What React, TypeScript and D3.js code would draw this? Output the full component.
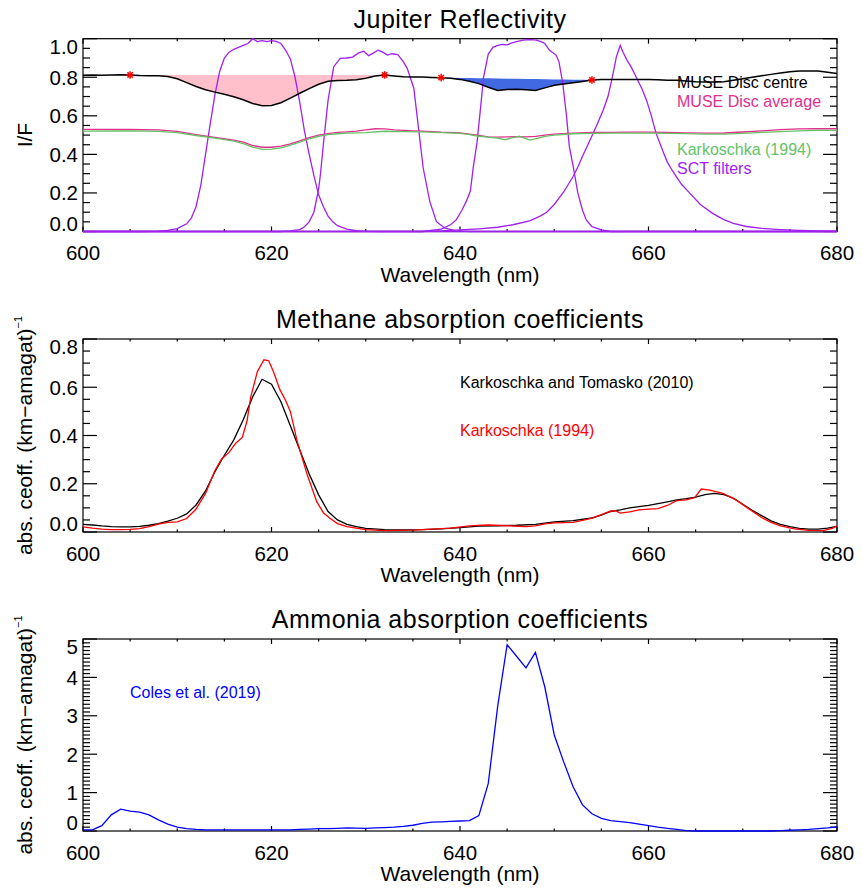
import React from "react";
import * as d3 from "d3";

// ---------- data ----------
const WAVE_MAJOR = [600, 620, 640, 660, 680];

const museCentre: [number, number][] = [
  [600, 0.811], [601, 0.812], [602, 0.811], [603, 0.812], [604, 0.813], [605, 0.812], [606, 0.809], [607, 0.808],
  [608, 0.808], [609, 0.804], [610, 0.792], [611, 0.772], [612, 0.752], [613, 0.735], [614, 0.723], [615, 0.712],
  [616, 0.699], [617, 0.683], [618, 0.664], [619, 0.652], [620, 0.654], [621, 0.668], [622, 0.692], [623, 0.717],
  [624, 0.741], [625, 0.764], [626, 0.779], [627, 0.783], [628, 0.784], [629, 0.787], [630, 0.795], [631, 0.806],
  [632, 0.812], [633, 0.807], [634, 0.803], [635, 0.801], [636, 0.801], [637, 0.799], [638, 0.798], [639, 0.795],
  [640, 0.789], [641, 0.779], [642, 0.767], [643, 0.748], [644, 0.731], [645, 0.737], [646, 0.738], [647, 0.735],
  [648, 0.731], [649, 0.745], [650, 0.758], [651, 0.765], [652, 0.771], [653, 0.778], [654, 0.786], [655, 0.788],
  [656, 0.789], [657, 0.789], [658, 0.789], [659, 0.789], [660, 0.788], [661, 0.787], [662, 0.785], [663, 0.784],
  [664, 0.781], [665, 0.777], [666, 0.776], [667, 0.776], [668, 0.777], [669, 0.784], [670, 0.792], [671, 0.8],
  [672, 0.808], [673, 0.815], [674, 0.822], [675, 0.828], [676, 0.832], [677, 0.833], [678, 0.832], [679, 0.826],
  [680, 0.82],
];

const museAverage: [number, number][] = [
  [600, 0.53], [605, 0.529], [608, 0.527], [610, 0.519], [612, 0.503], [614, 0.488], [616, 0.474], [617, 0.463],
  [618, 0.446], [619, 0.437], [620, 0.437], [621, 0.443], [622, 0.455], [623, 0.47], [624, 0.487], [625, 0.5],
  [626, 0.508], [627, 0.514], [628, 0.517], [629, 0.521], [630, 0.527], [631, 0.533], [632, 0.532], [633, 0.527],
  [634, 0.524], [635, 0.522], [636, 0.52], [637, 0.518], [638, 0.515], [640, 0.512], [641, 0.505], [642, 0.498],
  [643, 0.491], [644, 0.489], [645, 0.491], [646, 0.492], [647, 0.491], [648, 0.493], [649, 0.5], [650, 0.505],
  [652, 0.51], [654, 0.514], [656, 0.514], [658, 0.515], [660, 0.515], [662, 0.514], [664, 0.512], [666, 0.51],
  [668, 0.511], [670, 0.516], [672, 0.522], [674, 0.528], [676, 0.532], [678, 0.533], [680, 0.533],
];

const karkoschkaIF: [number, number][] = [
  [600, 0.521], [605, 0.522], [608, 0.519], [610, 0.513], [612, 0.498], [614, 0.484], [616, 0.469], [617, 0.456],
  [618, 0.438], [619, 0.426], [620, 0.427], [621, 0.434], [622, 0.448], [623, 0.463], [624, 0.48], [625, 0.494],
  [626, 0.502], [627, 0.507], [628, 0.51], [630, 0.513], [632, 0.52], [634, 0.518], [636, 0.517], [638, 0.513],
  [640, 0.509], [641, 0.502], [642, 0.494], [643, 0.489], [644, 0.484], [644.8, 0.476], [645.5, 0.485],
  [646.3, 0.495], [647, 0.482], [647.4, 0.474], [648, 0.48], [649, 0.493], [650, 0.5], [652, 0.507], [654, 0.509],
  [656, 0.51], [660, 0.51], [664, 0.508], [666, 0.505], [668, 0.505], [670, 0.509], [672, 0.514], [674, 0.518],
  [676, 0.522], [678, 0.524], [680, 0.525],
];

const filter619: [number, number][] = [
  [600, 0], [606, 0], [608, 0.002], [609, 0.006], [610, 0.015], [611, 0.04], [611.5, 0.07], [612, 0.13], [612.5, 0.24],
  [613, 0.4], [613.5, 0.56], [614, 0.71], [614.5, 0.83], [615, 0.9], [615.5, 0.93], [616, 0.945], [616.5, 0.955],
  [617, 0.965], [617.5, 0.975], [618, 1.0], [618.5, 0.985], [619, 0.99], [619.5, 0.985], [620, 0.99],
  [620.5, 0.986], [621, 0.975], [621.5, 0.94], [622, 0.895], [622.5, 0.8], [623, 0.67], [623.5, 0.52],
  [624, 0.4], [624.5, 0.29], [625, 0.19], [625.5, 0.13], [626, 0.08], [626.5, 0.05], [627, 0.03], [628, 0.012],
  [629, 0.004], [630, 0.001], [632, 0], [680, 0],
];

const filter631: [number, number][] = [
  [600, 0], [621, 0], [622, 0.003], [623, 0.01], [623.5, 0.025], [624, 0.05], [624.5, 0.1], [625, 0.22], [625.2, 0.3],
  [625.5, 0.45], [626, 0.68], [626.6, 0.855], [627.3, 0.898], [628, 0.9], [628.6, 0.905], [629.2, 0.925],
  [629.8, 0.935], [630.3, 0.912], [630.8, 0.925], [631.3, 0.94], [631.8, 0.93], [632.3, 0.915], [632.8, 0.922],
  [633.4, 0.918], [634, 0.88], [634.4, 0.846], [635.1, 0.743], [635.6, 0.535], [636.1, 0.328], [636.8, 0.155],
  [637.5, 0.051], [638.4, 0.017], [639.6, 0.003], [641, 0], [680, 0],
];

const filter647: [number, number][] = [
  [600, 0], [636, 0], [638, 0.012], [639, 0.035], [639.6, 0.06], [640.2, 0.11], [640.7, 0.16], [641.1, 0.21],
  [641.4, 0.33], [641.8, 0.46], [642.2, 0.65], [642.5, 0.8], [643, 0.92], [643.5, 0.955], [644, 0.965],
  [644.5, 0.97], [645, 0.968], [645.5, 0.978], [646, 0.985], [646.7, 0.993], [647.5, 0.995], [648.1, 0.993],
  [648.6, 0.985], [649, 0.975], [649.5, 0.94], [650.2, 0.915], [650.5, 0.88], [650.9, 0.77], [651.3, 0.6],
  [651.6, 0.44], [652, 0.34], [652.5, 0.2], [653, 0.11], [653.4, 0.06], [654, 0.025], [655, 0.008], [656, 0],
  [680, 0],
];

const filter657: [number, number][] = [
  [600, 0], [636, 0], [638, 0.003], [640, 0.008], [642, 0.014], [644, 0.022], [645.6, 0.035], [647.4, 0.055],
  [648.5, 0.08], [649.2, 0.1], [650, 0.14], [651, 0.205], [652, 0.285], [652.5, 0.335], [653, 0.39],
  [653.8, 0.475], [654.5, 0.55], [655.2, 0.63], [655.7, 0.7], [656.1, 0.786], [656.6, 0.907], [657, 0.965],
  [657.3, 0.93], [657.7, 0.89], [658.2, 0.85], [658.7, 0.8], [659.3, 0.74], [659.8, 0.68], [660.3, 0.6],
  [660.8, 0.51], [661.5, 0.42], [662, 0.36], [662.6, 0.31], [663.5, 0.245], [664.4, 0.198], [665.5, 0.14],
  [666.8, 0.094], [668, 0.062], [669, 0.042], [670.4, 0.026], [672, 0.016], [674, 0.01], [676, 0.006],
  [678, 0.003], [680, 0.002],
];

const continuumPoints = [605, 632, 638, 654];

const ch4Karkoschka2010: [number, number][] = [
  [600, 0.032], [601, 0.029], [602, 0.025], [603, 0.022], [604, 0.021], [605, 0.021], [606, 0.023], [607, 0.028],
  [608, 0.035], [609, 0.045], [610, 0.057], [611, 0.075], [612, 0.112], [613, 0.17], [614, 0.25], [615, 0.318],
  [616, 0.382], [617, 0.465], [618, 0.56], [619, 0.633], [620, 0.613], [621, 0.54], [622, 0.44], [623, 0.34],
  [624, 0.24], [625, 0.154], [626, 0.085], [627, 0.05], [628, 0.032], [629, 0.022], [630, 0.015], [632, 0.01],
  [634, 0.009], [636, 0.01], [638, 0.013], [640, 0.018], [642, 0.024], [644, 0.026], [646, 0.028], [648, 0.032],
  [650, 0.042], [652, 0.047], [654, 0.058], [655, 0.07], [656, 0.085], [657, 0.092], [658, 0.1], [660, 0.11],
  [662, 0.125], [663, 0.133], [664, 0.138], [665, 0.145], [666, 0.155], [667, 0.16], [668, 0.155], [669, 0.14],
  [670, 0.115], [671, 0.09], [672, 0.068], [673, 0.046], [674, 0.032], [675, 0.022], [676, 0.015], [677, 0.012],
  [678, 0.012], [679, 0.016], [680, 0.023],
];

const ch4Karkoschka1994: [number, number][] = [
  [600, 0.021], [601, 0.016], [602, 0.012], [603, 0.01], [604, 0.01], [605, 0.011], [606, 0.014], [607, 0.022],
  [608, 0.033], [609, 0.04], [610, 0.042], [611, 0.056], [612, 0.095], [613, 0.16], [614, 0.255], [614.7, 0.303],
  [615.5, 0.33], [616.2, 0.368], [616.9, 0.392], [617.4, 0.46], [617.8, 0.56], [618.5, 0.665], [619.2, 0.714],
  [619.7, 0.71], [620.2, 0.665], [620.9, 0.589], [621.5, 0.545], [622, 0.5], [622.7, 0.38], [623.8, 0.236],
  [624.8, 0.126], [625.5, 0.08], [626.2, 0.057], [627, 0.035], [628, 0.022], [630, 0.01], [632, 0.006],
  [635, 0.008], [637, 0.012], [639, 0.016], [641, 0.025], [643, 0.029], [645, 0.026], [647, 0.022], [648, 0.025],
  [649, 0.034], [650, 0.038], [652, 0.04], [653, 0.048], [654, 0.058], [655, 0.072], [656, 0.087], [656.5, 0.088],
  [657, 0.078], [658, 0.083], [659, 0.092], [660, 0.095], [661, 0.097], [662, 0.11], [663, 0.13], [664, 0.133],
  [664.9, 0.142], [665.6, 0.178], [666.5, 0.174], [667.9, 0.16], [669.3, 0.133], [670.5, 0.1], [672, 0.06],
  [673, 0.04], [674, 0.025], [675.5, 0.013], [677, 0.007], [678.5, 0.006], [679.5, 0.015], [680, 0.026],
];

const nh3Coles2019: [number, number][] = [
  [600, 0.03], [601, 0.03], [602, 0.14], [603, 0.42], [604, 0.57], [605, 0.52], [606, 0.49], [607, 0.42],
  [608, 0.29], [609, 0.18], [610, 0.1], [611, 0.06], [612, 0.04], [613, 0.03], [614, 0.03], [615, 0.03],
  [616, 0.03], [617, 0.03], [618, 0.03], [619, 0.03], [620, 0.03], [621, 0.03], [622, 0.03], [623, 0.04],
  [624, 0.05], [625, 0.06], [626, 0.06], [627, 0.07], [628, 0.08], [629, 0.075], [630, 0.07], [631, 0.08],
  [632, 0.09], [633, 0.1], [634, 0.12], [635, 0.15], [636, 0.2], [637, 0.23], [638, 0.24], [639, 0.25],
  [640, 0.26], [641, 0.27], [642, 0.4], [643, 1.24], [644, 3.25], [645, 4.85], [646, 4.55], [647, 4.25],
  [648, 4.65], [649, 3.75], [650, 2.5], [651, 1.8], [652, 1.15], [653, 0.68], [654, 0.45], [655, 0.33],
  [656, 0.27], [657, 0.245], [658, 0.22], [659, 0.18], [660, 0.14], [661, 0.1], [662, 0.07], [663, 0.04],
  [664, 0.01], [665, 0], [666, 0], [667, 0], [668, 0], [669, 0], [670, 0], [671, 0], [672, 0], [673, 0],
  [674, 0.01], [675, 0.02], [676, 0.03], [677, 0.04], [678, 0.06], [679, 0.08], [680, 0.11],
];

// ---------- styles ----------
const FONT = "'Liberation Sans', Arial, Helvetica, sans-serif";
const X0 = 83;
const X1 = 837;
const PURPLE = "#a020f0";
const MAGENTA = "#e0308c";
const GREEN = "#66c266";

type Pt = [number, number];

interface FrameProps {
  x: d3.ScaleLinear<number, number>;
  y: d3.ScaleLinear<number, number>;
  majorStep: number;
  minorStep: number;
  fmt: (v: number) => string;
  title: string;
  ylabel: React.ReactNode;
}

function Frame({ x, y, majorStep, minorStep, fmt, title, ylabel }: FrameProps) {
  const [yb, yt] = y.range();
  const [dMin, dMax] = y.domain();
  const xMinor = d3.range(600, 680.001, 5);
  const yTicks = d3.range(dMin, dMax + minorStep / 2, minorStep);
  const yMajors = d3.range(dMin, dMax + majorStep / 2, majorStep);
  const isMajor = (v: number) => Math.abs(v / majorStep - Math.round(v / majorStep)) < 1e-6;
  return (
    <g>
      <text x={(X0 + X1) / 2} y={yt - 11} textAnchor="middle" fontSize={25} letterSpacing={0.5} fontFamily={FONT}>
        {title}
      </text>
      <g stroke="#000" strokeWidth={1.2}>
        {xMinor.map((v) => {
          const len = WAVE_MAJOR.includes(v) ? 5 : 2.5;
          return (
            <g key={"x" + v}>
              <line x1={x(v)} x2={x(v)} y1={yb} y2={yb - len} />
              <line x1={x(v)} x2={x(v)} y1={yt} y2={yt + len} />
            </g>
          );
        })}
        {yTicks.map((v, i) => {
          const len = isMajor(v) ? 14 : 7;
          return (
            <g key={"y" + i}>
              <line x1={X0} x2={X0 + len} y1={y(v)} y2={y(v)} />
              <line x1={X1} x2={X1 - len} y1={y(v)} y2={y(v)} />
            </g>
          );
        })}
        <rect x={X0} y={yt} width={X1 - X0} height={yb - yt} fill="none" />
      </g>
      {WAVE_MAJOR.map((v) => (
        <text key={"xl" + v} x={x(v)} y={yb + 28.5} textAnchor="middle" fontSize={20.5} fontFamily={FONT}>
          {v}
        </text>
      ))}
      {yMajors.map((v, i) => {
        const base = Math.min(Math.max(y(v) + 7.3, yt + 15), yb - 1);
        return (
          <text key={"yl" + i} x={78} y={base} textAnchor="end" fontSize={20.5} fontFamily={FONT}>
            {fmt(v)}
          </text>
        );
      })}
      <text x={(X0 + X1) / 2} y={yb + 50} textAnchor="middle" fontSize={21} fontFamily={FONT}>
        Wavelength (nm)
      </text>
      <text
        transform={`translate(31.5, ${(yt + yb) / 2}) rotate(-90)`}
        textAnchor="middle"
        fontSize={21}
        fontFamily={FONT}
      >
        {ylabel}
      </text>
    </g>
  );
}

const absLabel = (
  <>
    abs. ceoff. (km−amagat)
    <tspan dy={-10} fontSize={11}>
      −1
    </tspan>
  </>
);

function Asterisk({ cx, cy }: { cx: number; cy: number }) {
  const s = 3.8;
  const d = s * Math.SQRT1_2;
  return (
    <g stroke="#ff0000" strokeWidth={1.5}>
      <line x1={cx - s} x2={cx + s} y1={cy} y2={cy} />
      <line x1={cx} x2={cx} y1={cy - s} y2={cy + s} />
      <line x1={cx - d} x2={cx + d} y1={cy - d} y2={cy + d} />
      <line x1={cx - d} x2={cx + d} y1={cy + d} y2={cy - d} />
    </g>
  );
}

export default function App() {
  const x = d3.scaleLinear().domain([600, 680]).range([X0, X1]);
  const y1 = d3.scaleLinear().domain([0, 1]).range([231.5, 38.7]);
  const y2 = d3.scaleLinear().domain([0, 0.8]).range([532, 339]);
  const y3 = d3.scaleLinear().domain([0, 5]).range([831, 639]);

  const line = (ys: d3.ScaleLinear<number, number>) =>
    d3
      .line<Pt>()
      .x((d) => x(d[0]))
      .y((d) => ys(d[1]));

  const museAt = (wl: number) => {
    const xs = museCentre.map((d) => d[0]);
    const ys = museCentre.map((d) => d[1]);
    const i = d3.bisectLeft(xs, wl);
    if (xs[i] === wl) return ys[i];
    const t = (wl - xs[i - 1]) / (xs[i] - xs[i - 1]);
    return ys[i - 1] + t * (ys[i] - ys[i - 1]);
  };

  const band = (a: number, b: number) => {
    const chord = d3.scaleLinear().domain([a, b]).range([museAt(a), museAt(b)]);
    const pts = museCentre.filter((d) => d[0] >= a && d[0] <= b);
    return d3
      .area<Pt>()
      .x((d) => x(d[0]))
      .y0((d) => y1(chord(d[0])))
      .y1((d) => y1(d[1]))(pts) as string;
  };

  const l1 = line(y1);
  const l2 = line(y2);
  const l3 = line(y3);

  return (
    <svg
      width={862}
      height={890}
      style={{ position: "absolute", left: 0, top: 0, background: "#fff", display: "block" }}
    >
      <rect x={0} y={0} width={862} height={890} fill="#fff" />

      {/* Panel 1: Jupiter Reflectivity */}
      <Frame x={x} y={y1} majorStep={0.2} minorStep={0.05} fmt={(v) => v.toFixed(1)} title="Jupiter Reflectivity" ylabel="I/F" />
      <path d={band(continuumPoints[0], continuumPoints[1])} fill="#ffc0cb" stroke="none" />
      <path d={band(continuumPoints[2], continuumPoints[3])} fill="#4169e1" stroke="none" />
      {[filter619, filter631, filter647, filter657].map((f, i) => (
        <path key={"f" + i} d={l1(f) as string} fill="none" stroke={PURPLE} strokeWidth={1.3} />
      ))}
      <path d={l1(museAverage) as string} fill="none" stroke={MAGENTA} strokeWidth={1.3} />
      <path d={l1(karkoschkaIF) as string} fill="none" stroke={GREEN} strokeWidth={1.3} />
      <path d={l1(museCentre) as string} fill="none" stroke="#000" strokeWidth={1.5} />
      {continuumPoints.map((wl) => (
        <Asterisk key={"m" + wl} cx={x(wl)} cy={y1(museAt(wl))} />
      ))}
      <g fontFamily={FONT} fontSize={16}>
        <text x={677} y={88} fill="#000">MUSE Disc centre</text>
        <text x={677} y={106.5} fill={MAGENTA}>MUSE Disc average</text>
        <text x={677} y={155} fill={GREEN}>Karkoschka (1994)</text>
        <text x={677} y={174} fill={PURPLE}>SCT filters</text>
      </g>

      {/* Panel 2: Methane */}
      <Frame x={x} y={y2} majorStep={0.2} minorStep={0.05} fmt={(v) => v.toFixed(1)} title="Methane absorption coefficients" ylabel={absLabel} />
      <path d={l2(ch4Karkoschka2010) as string} fill="none" stroke="#000" strokeWidth={1.3} />
      <path d={l2(ch4Karkoschka1994) as string} fill="none" stroke="#ff0000" strokeWidth={1.3} />
      <g fontFamily={FONT} fontSize={16}>
        <text x={460} y={387.5} fill="#000">Karkoschka and Tomasko (2010)</text>
        <text x={460} y={435.5} fill="#ff0000">Karkoschka (1994)</text>
      </g>

      {/* Panel 3: Ammonia */}
      <Frame x={x} y={y3} majorStep={1} minorStep={0.1} fmt={(v) => String(Math.round(v))} title="Ammonia absorption coefficients" ylabel={absLabel} />
      <path d={l3(nh3Coles2019) as string} fill="none" stroke="#0000ff" strokeWidth={1.3} />
      <text x={130} y={697.5} fill="#0000ff" fontFamily={FONT} fontSize={16}>
        Coles et al. (2019)
      </text>
    </svg>
  );
}
